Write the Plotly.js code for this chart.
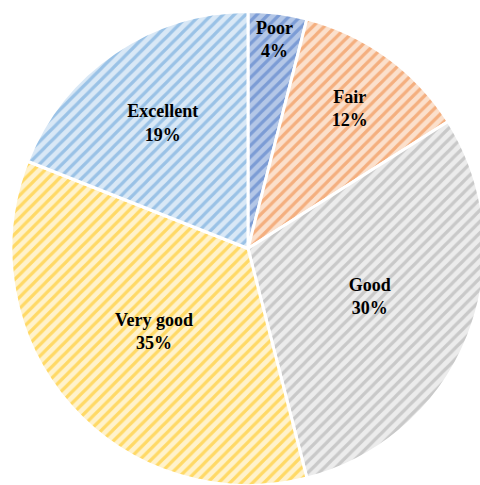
<!DOCTYPE html>
<html>
<head>
<meta charset="utf-8">
<script src="https://cdn.plot.ly/plotly-3.0.1.min.js"></script>
<style>html,body{margin:0;padding:0;background:#fff;overflow:hidden;}#wrap{width:480px;height:485px;overflow:hidden;}#chart{width:500px;height:500px;}</style>
</head>
<body>
<div id="wrap"><div id="chart"></div></div>
<script>
const categories = ["Poor", "Fair", "Good", "Very good", "Excellent"];
const shares = [4, 12, 30, 35, 19];
const bgColors = ["#b4c7e7", "#fbe0cc", "#ececec", "#fff2cc", "#d9e8f6"];
const lineColors = ["#4472c4", "#ed7d31", "#a5a5a5", "#ffc000", "#5b9bd5"];

const trace = {
  type: "pie",
  labels: categories,
  values: shares,
  sort: false,
  direction: "clockwise",
  rotation: 0,
  texttemplate: "<b>%{label}<br>%{percent:.0%}</b>",
  textposition: "inside",
  insidetextorientation: "horizontal",
  insidetextfont: {family: "Liberation Serif, Times New Roman, serif", size: 18, color: "#000"},
  hoverinfo: "none",
  marker: {
    colors: bgColors,
    line: {color: "#ffffff", width: 3},
    pattern: {shape: "/", fgcolor: lineColors, bgcolor: bgColors, size: 8, solidity: 0.4, fillmode: "overlay"}
  },
  domain: {x: [0.022, 0.97], y: [0.026, 0.98]}
};

const layout = {
  width: 500, height: 500,
  margin: {l: 0, r: 0, t: 0, b: 0},
  showlegend: false,
  paper_bgcolor: "#ffffff",
  uniformtext: {mode: "show", minsize: 18}
};

Plotly.newPlot("chart", [trace], layout, {staticPlot: true});
</script>
</body>
</html>
